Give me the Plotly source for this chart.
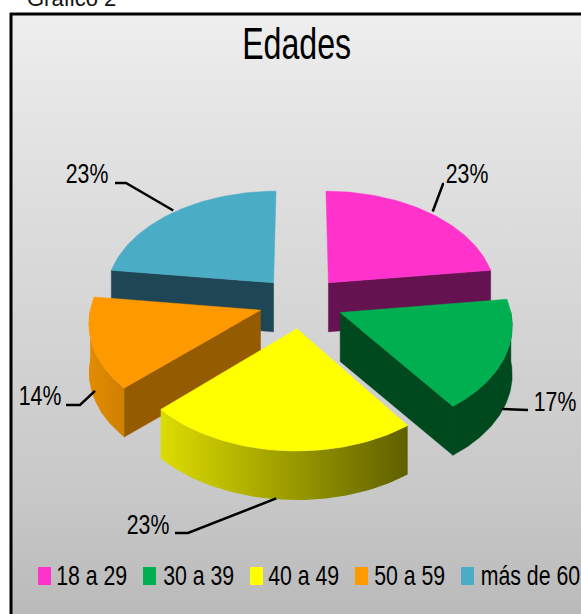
import numpy as np
import plotly.graph_objects as go

# data
CATEGORIES = ["18 a 29", "30 a 39", "40 a 49", "50 a 59", "más de 60"]
VALUES = [23, 17, 23, 14, 23]
COLORS = ["#FF33CC", "#00B050", "#FFFF00", "#FF9900", "#4BACC6"]
WALL_COLORS = ["#641250", "#00491F", "#6B6B00", "#955B00", "#1F4654"]

W, H = 581, 614
FONT = "Liberation Sans"

# perspective used for the exploded pie
CX, CY = 301, 302
SCALE_X, SCALE_Y = 169, 104.4
PERSP = 0.1
EXPLODE = 0.25
DEPTH = 49

# no narrow font here: squeeze the text horizontally, and drop the page margin
POST_SCRIPT = """
document.body.style.margin = '0';
document.querySelectorAll('.annotation-text').forEach(function (t) {
  var size = parseFloat(t.style.fontSize);
  var k = size > 40 ? 0.73 : (size > 25 ? 0.76 : 1);
  if (k < 1) {
    t.setAttribute('lengthAdjust', 'spacingAndGlyphs');
    t.setAttribute('textLength', t.getComputedTextLength() * k);
  }
});
"""


def project(theta, radius, bisector):
    u = radius * np.sin(theta) + EXPLODE * np.sin(bisector)
    v = radius * np.cos(theta) + EXPLODE * np.cos(bisector)
    w = 1 + PERSP * v
    return CX + SCALE_X * u / w, CY - SCALE_Y * v / w


def polygon(x, y, color, **kw):
    return go.Scatter(
        x=list(x), y=list(y), mode="lines", fill="toself", fillcolor=color,
        line=dict(width=0.5, color=color), hoverinfo="skip", **kw,
    )


fig = go.Figure()

# chart area background
fig.add_trace(go.Scatter(
    x=[12, W, W, 12, 12], y=[15, 15, H, H, 15], mode="lines", fill="toself",
    line=dict(width=0), hoverinfo="skip",
    fillgradient=dict(
        type="vertical", start=15, stop=H,
        colorscale=[[0, "#EEEEEE"], [0.3, "#DEDEDE"], [0.8, "#C8C8C8"], [1, "#BABABA"]],
    ),
))

edges = np.cumsum([0] + VALUES) / sum(VALUES) * 2 * np.pi
bisectors = (edges[:-1] + edges[1:]) / 2

# which radial wall faces the viewer: end edge, start edge or none
WALL_EDGE = {0: 1, 1: 1, 2: None, 3: 0, 4: 0}
RIM_GRADIENT = {2: ("#DCDC00", "#5F5F00"), 3: ("#E28C00", "#CF7F00")}

# back slices first
for i in [4, 0, 3, 1, 2]:
    t0, t1, mid = edges[i], edges[i + 1], bisectors[i]
    ax, ay = project(0, 0, mid)

    if WALL_EDGE[i] is not None:
        rx, ry = project(edges[i + WALL_EDGE[i]], 1, mid)
        fig.add_trace(polygon([ax, rx, rx, ax, ax],
                              [ay, ry, ry + DEPTH, ay + DEPTH, ay], WALL_COLORS[i]))

    lo, hi = max(t0, np.pi / 2), min(t1, 3 * np.pi / 2)
    if lo < hi:
        th = np.linspace(lo, hi, 60)
        x, y = project(th, 1, mid)
        px = np.r_[x, x[::-1], x[0]]
        py = np.r_[y, y[::-1] + DEPTH, y[0]]
        if i in RIM_GRADIENT:
            c0, c1 = RIM_GRADIENT[i]
            fig.add_trace(go.Scatter(
                x=px, y=py, mode="lines", fill="toself", line=dict(width=0),
                hoverinfo="skip",
                fillgradient=dict(type="horizontal", start=float(x.min()), stop=float(x.max()),
                                  colorscale=[[0, c0], [1, c1]]),
            ))
        else:
            fig.add_trace(polygon(px, py, WALL_COLORS[i]))

    th = np.linspace(t0, t1, 80)
    x, y = project(th, 1, mid)
    fig.add_trace(polygon(np.r_[ax, x, ax], np.r_[ay, y, ay], COLORS[i]))

# leader lines and percentage labels: (nudge at the slice, elbow, line end, label centre)
LEADERS = [
    ((4, -1), (443, 184), (444, 184), (467, 173)),
    ((-2, 4), (503, 409), (528, 410), (555, 401)),
    ((-2, -1), (188, 533), (175, 533), (148, 524)),
    ((3, -2), (80, 405), (66, 405), (40, 395)),
    ((0, -2), (126, 183), (115, 183), (87, 173)),
]
NEAR = [False, True, True, True, False]
for i, (nudge, elbow, end, label) in enumerate(LEADERS):
    sx, sy = project(bisectors[i], 1, bisectors[i])
    if NEAR[i]:
        sy = sy + DEPTH
    fig.add_trace(go.Scatter(
        x=[sx + nudge[0], elbow[0], end[0]], y=[sy + nudge[1], elbow[1], end[1]],
        mode="lines", line=dict(color="black", width=2.5), hoverinfo="skip",
    ))
    fig.add_annotation(x=label[0], y=label[1], text=f"{VALUES[i]}%", showarrow=False,
                       font=dict(family=FONT, size=28, color="black"))

# legend, laid out by hand for the tall swatches
LEGEND_SWATCH_X = [38, 143, 250, 355, 461]
LEGEND_TEXT_X = [91, 198, 303, 409, 530]
for i, name in enumerate(CATEGORIES):
    sx = LEGEND_SWATCH_X[i]
    fig.add_shape(type="rect", x0=sx, x1=sx + 13, y0=567, y1=585,
                  fillcolor=COLORS[i], line_width=0)
    fig.add_annotation(x=LEGEND_TEXT_X[i], y=575, text=name, showarrow=False,
                       font=dict(family=FONT, size=28, color="black"))

fig.add_annotation(x=296, y=43, text="Edades", showarrow=False,
                   font=dict(family=FONT, size=44, color="black"))
fig.add_annotation(x=28, y=0, yshift=2, text="Gráfico 2", showarrow=False, xanchor="left",
                   xshift=-3, font=dict(family=FONT, size=22, color="#111111"))

# chart frame, only left and top fall inside the crop
fig.add_shape(type="line", x0=11, x1=11, y0=13, y1=H, line=dict(color="black", width=3))
fig.add_shape(type="line", x0=10, x1=W, y0=14, y1=14, line=dict(color="black", width=3))

fig.update_xaxes(range=[0, W], visible=False, fixedrange=True)
fig.update_yaxes(range=[H, 0], visible=False, fixedrange=True)
fig.update_layout(
    width=W, height=H, margin=dict(l=0, r=0, t=0, b=0),
    paper_bgcolor="white", plot_bgcolor="white", showlegend=False,
)

fig.write_html("out.html", config=dict(displayModeBar=False), post_script=POST_SCRIPT)
